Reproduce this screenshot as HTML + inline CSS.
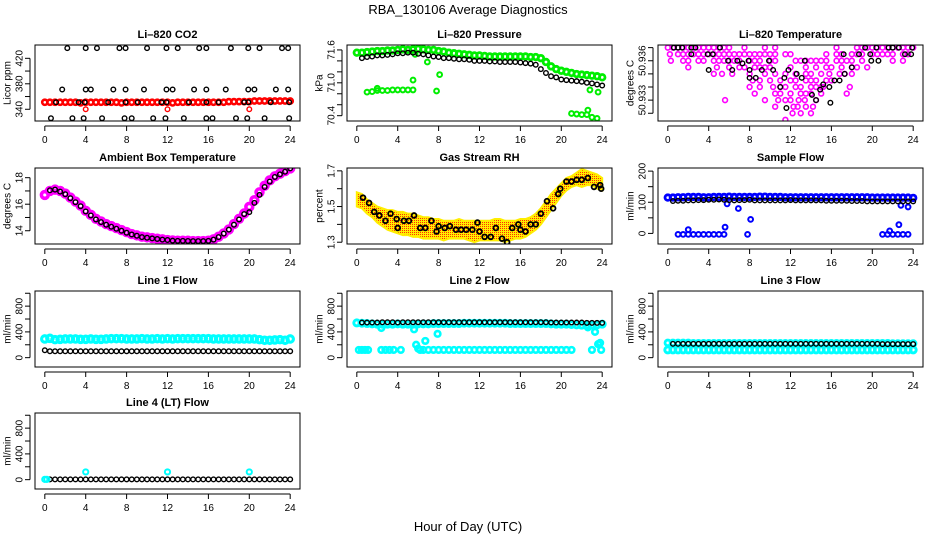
<!DOCTYPE html>
<html><head><meta charset="utf-8"><style>
html,body{margin:0;padding:0;background:#fff}
svg{display:block;font-family:"Liberation Sans",sans-serif}
</style></head><body>
<svg id="chart" width="936" height="540" viewBox="0 0 936 540" xmlns="http://www.w3.org/2000/svg">
<defs>
<pattern id="rhpat" width="2" height="2" patternUnits="userSpaceOnUse"><rect width="2" height="2" fill="#ffee00"/><rect width="1" height="1" fill="#ff3000"/></pattern>
</defs>
<text x="468" y="14" text-anchor="middle" font-size="13">RBA_130106  Average Diagnostics</text>
<text x="468" y="531" text-anchor="middle" font-size="13">Hour of Day (UTC)</text>
</svg>
<script>
const H=[0,0.5,1,1.5,2,2.5,3,3.5,4,4.5,5,5.5,6,6.5,7,7.5,8,8.5,9,9.5,10,10.5,11,11.5,12,12.5,13,13.5,14,14.5,15,15.5,16,16.5,17,17.5,18,18.5,19,19.5,20,20.5,21,21.5,22,22.5,23,23.5,24];
const xTicks=[0,4,8,12,16,20,24];
// CO2
const co2Red=[351,351,351,351,351,351,351,350,351,351,351,351,351,351,351,350,351,351,351,351,351,351,351,351,351,350,351,351,351,351,351,351,351,351,351,351,352,352,352,352,352,353,353,353,353,353,353,353,353];
const co2RedOutX=[4,12,20];
const co2RedOutY=[340,340,340];
const co2BlackX=[2.2,4,5.1,7.3,7.9,10,11.9,13,15.1,15.8,18.2,19.9,21,23.2,23.8,1.7,4,4.5,6.7,7.9,9.7,11.9,12.5,14.6,15.8,17.7,19.9,20.5,22.6,23.8,1.1,3.3,3.9,6.2,7.9,9.1,11.4,11.9,14.1,15.8,17,19.5,19.9,22.1,23.9,0.6,2.7,3.8,5.6,7.8,8.5,10.6,11.8,13.6,15.8,16.4,18.7,19.8,21.5,23.9];
const co2BlackY=[436,436,436,436,436,436,436,436,436,436,436,436,436,436,436,371,371,371,371,371,371,371,371,371,371,371,371,371,371,371,351,351,351,351,351,351,351,351,351,351,351,351,351,351,351,326,326,326,326,326,326,326,326,326,326,326,326,326,326,326];
// Pressure
const presGreen=[71.55,71.55,71.56,71.57,71.58,71.58,71.59,71.59,71.6,71.61,71.6,71.61,71.62,71.61,71.6,71.6,71.58,71.57,71.55,71.54,71.53,71.52,71.51,71.5,71.5,71.49,71.48,71.48,71.48,71.48,71.48,71.48,71.48,71.48,71.47,71.47,71.45,71.38,71.3,71.25,71.22,71.2,71.18,71.16,71.15,71.14,71.13,71.12,71.1];
const presGreenLowX=[1,1.5,2,2.5,3,3.5,4,4.5,5,5.5,2,5.5,5.7,6.9,7.8,8.1,21,21.5,22,22.5,23,23.5,22.6,22.8,23.6];
const presGreenLowY=[70.83,70.84,70.86,70.86,70.86,70.87,70.87,70.87,70.87,70.87,70.9,71.05,71.52,71.38,70.85,71.15,70.44,70.43,70.42,70.42,70.37,70.35,70.5,70.87,70.83];
const presBlack=[null,71.45,71.47,71.48,71.5,71.5,71.51,71.52,71.54,71.54,71.55,71.55,71.53,71.52,71.5,71.48,71.47,71.45,71.45,71.44,71.43,71.43,71.42,71.4,71.4,71.4,71.39,71.39,71.38,71.38,71.38,71.38,71.37,71.36,71.35,71.33,71.25,71.18,71.12,71.1,71.06,71.05,71.04,71.03,71.02,71.0,70.99,70.97,70.95];
// Li-820 temperature
const tempLevels=[50.937,50.9365,50.936,50.9355,50.935,50.9345,50.934,50.9335,50.933,50.9325,50.932,50.9315];
const tempMagHours=[
[0,0.5,1,1.5,2,2.5,3,3.5,4,4.5,5,5.5,6,7.5,9.5,10.5,16.5,18.5,19,19.5,20,20.5,21,21.5,22,22.5,23,23.5,24],
[0.2,1,1.5,2,2.5,3,3.5,4,4.5,5,5.5,6,6.5,7,7.5,8,8.5,9,9.5,10,10.5,11.5,12,15.5,16.5,17,18,18.5,19,20,20.5,21,21.5,22,23,23.5],
[0.3,1.5,2,3,3.5,4.5,5,5.5,6,6.5,7,8,8.5,9,10,10.5,12.5,13,13.5,14,14.5,15,15.5,16.5,17,17.5,18,19,22,23],
[2,4.8,6,7,7.5,8.5,9,9.5,10,12,13.5,14.5,15.5,16,17,18,18.5,19.5],
[4.5,5.3,6.3,8,9.5,10.5,11.5,12.5,13.5,14,15,15.8,16.8,17.3,18],
[8.3,9,10,11,12,12.5,13.5,14,14.5,15.5,16],
[8,9,10.3,11,11.5,12.5,13,14,14.5,15,15.2,17.8],
[8.5,10.5,11,12,13,13.5,14,15,17.5],
[5.6,9.5,10.8,11.5,12,12.8,13.4,14.5],
[10.5,12.3,12.7,13.5,14.2],
[12.2,13,14],
[11.5]];
const tempBlackX=[0.6,1.0,1.4,2.3,2.7,5.1,2.3,3.9,4.4,5.9,6.8,7.9,9.9,7.3,4.0,6.3,8.0,9.2,10.3,13.4,11.8,12.6,8.0,8.6,11.4,13.1,11.0,15.8,16.3,16.8,15.2,14.9,14.1,14.5,15.9,11.6,17.2,18.0,18.7,19.3,19.8,19.9,20.4,21.6,22.0,22.6,23.2,23.8,23.9,20.6,17.3];
const tempBlackY=[50.937,50.937,50.937,50.937,50.937,50.937,50.9365,50.9365,50.9365,50.936,50.936,50.936,50.936,50.9358,50.9353,50.9353,50.9353,50.9353,50.9353,50.936,50.9353,50.935,50.9347,50.9347,50.9347,50.9347,50.934,50.934,50.9345,50.9345,50.9342,50.9338,50.9334,50.933,50.9328,50.9324,50.9365,50.9355,50.9365,50.937,50.9365,50.936,50.937,50.937,50.937,50.937,50.9365,50.9365,50.937,50.936,50.935];
// Ambient box temperature
const ambMag=[16.7,17.0,17.1,17.0,16.8,16.5,16.2,15.9,15.5,15.2,14.9,14.7,14.5,14.35,14.2,14.05,13.9,13.75,13.65,13.55,13.5,13.45,13.4,13.35,13.3,13.27,13.25,13.25,13.25,13.22,13.22,13.22,13.25,13.35,13.55,13.8,14.1,14.5,14.9,15.3,15.8,16.3,16.9,17.4,17.8,18.1,18.3,18.5,18.7];
const ambBlack=[null,17.05,17.1,16.95,16.75,16.45,16.15,15.85,15.45,15.15,14.85,14.65,14.45,14.3,14.15,14.0,13.85,13.72,13.62,13.52,13.47,13.42,13.38,13.33,13.3,13.25,13.24,13.24,13.23,13.22,13.22,13.22,13.24,13.33,13.52,13.78,14.08,14.45,14.85,15.25,15.4,16.1,16.7,17.3,17.7,18.05,18.25,18.45,18.7];
// Gas stream RH
const rhLow=[1.5,1.49,1.46,1.44,1.41,1.39,1.37,1.36,1.35,1.34,1.34,1.33,1.33,1.32,1.32,1.32,1.32,1.31,1.32,1.32,1.32,1.32,1.31,1.3,1.31,1.31,1.31,1.31,1.31,1.3,1.31,1.32,1.32,1.33,1.35,1.37,1.4,1.44,1.48,1.52,1.56,1.59,1.61,1.62,1.61,1.62,1.62,1.6,1.59];
const rhHigh=[1.58,1.57,1.54,1.52,1.5,1.49,1.48,1.48,1.47,1.47,1.46,1.46,1.45,1.44,1.44,1.43,1.43,1.42,1.42,1.42,1.43,1.42,1.42,1.42,1.42,1.42,1.42,1.43,1.43,1.42,1.42,1.42,1.43,1.43,1.44,1.46,1.49,1.53,1.57,1.6,1.63,1.66,1.67,1.69,1.71,1.7,1.69,1.68,1.66];
const rhBlackX=[0.6,1.2,1.7,2.2,2.8,3.3,3.9,4,4.6,5.1,5.6,6.2,6.7,7.3,7.8,8,8.6,9.1,9.7,10.2,10.7,11.3,11.8,12,12.5,13.1,13.6,14.2,14.7,15.2,15.8,16,16.5,17,17.5,18,18.6,19.2,19.7,19.9,20.5,21,21.5,22,22.6,23.2,23.8,23.9];
const rhBlackY=[1.55,1.52,1.47,1.45,1.42,1.46,1.43,1.38,1.42,1.42,1.45,1.38,1.38,1.42,1.36,1.39,1.38,1.39,1.37,1.37,1.37,1.37,1.41,1.36,1.33,1.33,1.38,1.32,1.3,1.38,1.4,1.37,1.36,1.4,1.4,1.46,1.53,1.49,1.57,1.6,1.64,1.64,1.65,1.65,1.66,1.61,1.62,1.6];
// Sample flow
const sfBlue=[115,115,116,116,117,117,117,116,116,117,117,117,118,117,117,117,117,117,118,118,117,117,117,116,116,116,116,116,116,116,116,116,116,116,116,116,116,116,116,116,115,115,115,115,115,115,115,115,114];
const sfBlueLowX=[1,1.5,2,2.5,3,3.5,4,4.5,5,5.5,2,5.6,5.8,6.9,7.8,8.1,21,21.5,22,22.5,23,23.5,21.7,22.6,22.8,23.5];
const sfBlueLowY=[-3,-3,-3,-3,-3,-3,-3,-3,-3,-3,12,20,95,80,-3,45,-3,-3,-3,-3,-3,-3,8,28,90,85];
const sfBlack=[null,104,105,105,106,106,107,107,108,108,109,108,107,106,107,107,108,106,106,106,106,106,106,106,107,106,106,106,106,106,106,105,105,105,105,105,104,104,104,103,103,103,103,103,103,103,103,103,103];
// Line flows
const l1Cyan=[290,300,280,285,290,290,290,285,285,290,285,285,290,295,295,295,290,290,290,295,290,290,295,290,295,290,295,295,295,295,295,295,295,290,290,290,290,290,290,290,290,290,280,270,270,275,280,270,290];
const l1Black=[115,100,100,100,100,100,100,100,100,100,100,100,100,100,100,100,100,100,100,100,100,100,100,100,100,100,100,100,100,100,100,100,100,100,100,100,100,100,100,100,100,100,100,100,100,100,100,100,100];
const l2Cyan=[540,535,530,525,520,520,520,520,525,520,520,520,525,525,525,530,530,530,530,530,530,535,535,535,535,535,535,535,535,535,530,530,530,530,530,530,530,530,525,520,520,520,515,510,505,505,505,510,520];
const l2CyanLowX=[0.2,0.5,0.8,1.1,2.4,2.8,3.2,3.6,2.4,4.3,5.8,6.0,6.2,6.5,7,7.5,8,8.5,9,9.5,10,10.5,11,11.5,12,12.5,13,13.5,14,14.5,15,15.5,16,16.5,17,17.5,18,18.5,19,19.5,20,20.5,21,5.6,6.7,7.9,23,23.3,23.6,23.8,23.9,22.6];
const l2CyanLowY=[120,120,120,120,120,120,120,120,460,120,200,140,120,120,120,120,120,120,120,120,120,120,120,120,120,120,120,120,120,120,120,120,120,120,120,120,120,120,120,120,120,120,120,440,260,370,120,400,210,230,120,470];
const l2Black=[null,545,545,545,545,550,550,550,545,550,550,550,550,550,550,550,550,550,550,550,550,550,550,550,550,550,550,550,550,550,550,550,550,550,550,550,550,550,545,545,545,545,545,545,545,540,540,540,540];
const l3CyanA=[230,230,230,230,230,225,225,225,225,225,225,225,225,225,225,225,225,225,225,225,225,225,225,225,225,225,225,225,225,225,225,225,225,225,225,225,225,225,225,225,225,225,225,225,220,220,220,220,220];
const l3CyanB=[120,120,120,120,120,120,120,120,120,120,120,120,120,120,120,120,120,120,120,120,120,120,120,120,120,120,120,120,120,120,120,120,120,120,120,120,120,120,120,120,120,120,120,120,120,120,120,120,120];
const l3Black=[null,215,215,215,215,215,215,215,215,215,215,215,215,215,215,215,215,215,215,215,215,215,215,215,215,215,215,215,215,215,215,215,215,215,215,215,215,215,215,215,215,215,210,210,210,210,210,210,210];
const l4CyanX=[0,0.2,4,12,20];
const l4CyanY=[5,5,120,120,120];
const l4Black=[null,5,5,5,5,5,5,5,5,5,5,5,5,5,5,5,5,5,5,5,5,5,5,5,5,5,5,5,5,5,5,5,5,5,5,5,5,5,5,5,5,5,5,5,5,5,5,5,5];

const NS='http://www.w3.org/2000/svg';
const svg=document.getElementById('chart');
const COLS=[35,347,658], ROWS=[45,168,291,413], W=265, PH=76;
function mk(tag,attrs,parent){const e=document.createElementNS(NS,tag);for(const k in attrs)e.setAttribute(k,attrs[k]);(parent||svg).appendChild(e);return e;}

function panel(slug,col,row,title,ylab,ymin,ymax,yTicks,yLabVals,yLabTexts){
  const L=COLS[col],T=ROWS[row];
  const g=mk('g',{});
  
  
  const sx=h=>L+(h+0.96)/25.92*W;
  const sy=v=>T+PH*(ymax-v)/(ymax-ymin);
  const t=mk('text',{x:L+W/2,y:T-7,'text-anchor':'middle','font-size':11,'font-weight':'bold'},g);t.textContent=title;
  
  
  const ax=mk('g',{stroke:'#000','stroke-width':1},g);
  
  
  mk('line',{x1:sx(0),x2:sx(24),y1:T+PH+5,y2:T+PH+5},ax);
  xTicks.forEach(v=>{
    mk('line',{x1:sx(v),x2:sx(v),y1:T+PH+5,y2:T+PH+10},ax);
    const tx=mk('text',{x:sx(v),y:T+PH+22,'text-anchor':'middle','font-size':10,stroke:'none'},ax);tx.textContent=v;
    
    
  });
  const ay=mk('g',{stroke:'#000','stroke-width':1},g);
  
  
  mk('line',{x1:L-5,x2:L-5,y1:sy(yTicks[0]),y2:sy(yTicks[yTicks.length-1])},ay);
  yTicks.forEach(v=>mk('line',{x1:L-10,x2:L-5,y1:sy(v),y2:sy(v)},ay));
  yLabVals.forEach((v,i)=>{
    const y=sy(v);
    const tx=mk('text',{x:L-15,y:y,'text-anchor':'middle','font-size':10,stroke:'none','dominant-baseline':'central',transform:`rotate(-90 ${L-15} ${y})`},ay);
    tx.textContent=yLabTexts?yLabTexts[i]:v;
    
    
  });
  const yl=mk('text',{x:L-27,y:T+PH/2,'text-anchor':'middle','font-size':10,'dominant-baseline':'central',transform:`rotate(-90 ${L-27} ${T+PH/2})`},g);
  yl.textContent=ylab;
  
  
  const cp='clip-'+slug;
  const cpe=mk('clipPath',{id:cp},g);mk('rect',{x:L,y:T,width:W,height:PH},cpe);
  const plot=mk('g',{'clip-path':`url(#${cp})`},g);
  
  
  const box=mk('rect',{x:L,y:T,width:W,height:PH,fill:'none',stroke:'#000','stroke-width':1},g);
  
  
  return {sx,sy,plot};
}
function pts(p,xs,ys,color,name,r,sw){
  const g=mk('g',{fill:'none',stroke:color,'stroke-width':sw||1.4},p.plot);
  
  
  xs.forEach((x,i)=>{const v=ys[i];if(v==null)return;
    const c=mk('circle',{cx:p.sx(x),cy:p.sy(v),r:r||2.3},g);
    
    
  });
}

// CO2
let p=panel('co2',0,0,'Li\u2013820 CO2','Licor ppm',321.6,440.9,[340,360,380,400,420],[340,380,420]);
pts(p,H,co2Red,'#ff0000','co2-red-series',2.6,2.6);
pts(p,co2RedOutX,co2RedOutY,'#ff0000','co2-red-outliers');
pts(p,co2BlackX,co2BlackY,'#000','co2-black-series');
// Pressure
p=panel('pressure',1,0,'Li\u2013820 Pressure','kPa',70.303,71.69,[70.4,70.6,70.8,71.0,71.2,71.4,71.6],[70.4,71.0,71.6],['70.4','71.0','71.6']);
pts(p,H,presGreen,'#00ee00','pressure-green-series',2.8,2.8);
pts(p,presGreenLowX,presGreenLowY,'#00ee00','pressure-green-low',2.4,2);
pts(p,H,presBlack,'#000','pressure-black-series');
// Temperature
p=panel('li820-temp',2,0,'Li\u2013820 Temperature','degrees C',50.93141,50.9372,[50.932,50.933,50.934,50.935,50.936,50.937],[50.933,50.936],['50.933','50.936']);
tempMagHours.forEach((hs,li)=>pts(p,hs,hs.map(()=>tempLevels[li]),'#ff00ff','temp-magenta-series',2.4,1.6));
pts(p,tempBlackX,tempBlackY,'#000','temp-black-series');
// Ambient
p=panel('ambient-temp',0,1,'Ambient Box Temperature','degrees C',13.0,18.73,[14,15,16,17,18],[14,16,18]);
pts(p,H,ambMag,'#ff00ff','ambient-magenta-series',3.4,3.6);
pts(p,H,ambBlack,'#000','ambient-black-series');
// RH
p=panel('gas-rh',1,1,'Gas Stream RH','percent',1.29,1.716,[1.3,1.4,1.5,1.6,1.7],[1.3,1.5,1.7],['1.3','1.5','1.7']);
{let d='M'+H.map((h,i)=>p.sx(h)+','+p.sy(rhHigh[i])).join('L')+'L'+H.slice().reverse().map((h,j)=>p.sx(h)+','+p.sy(rhLow[H.length-1-j])).join('L')+'Z';
 const band=mk('path',{d:d,fill:'url(#rhpat)',stroke:'#ffee00','stroke-width':2},p.plot);
 
 }
pts(p,rhBlackX,rhBlackY,'#000','rh-black-series',2.4,1.8);
// Sample flow
p=panel('sample-flow',2,1,'Sample Flow','ml/min',-34,210,[0,50,100,150,200],[0,100,200]);
pts(p,H,sfBlue,'#0000ff','sample-blue-series',2.8,2.8);
pts(p,sfBlueLowX,sfBlueLowY,'#0000ff','sample-blue-low',2.4,2);
pts(p,H,sfBlack,'#000','sample-black-series');
// Line 1
const fT=[0,200,400,600,800,1000],fL=[0,400,800];
p=panel('line1-flow',0,2,'Line 1 Flow','ml/min',-145,1035,fT,fL);
pts(p,H,l1Cyan,'#00ffff','line1-cyan-series',3.2,3.2);
pts(p,H,l1Black,'#000','line1-black-series');
// Line 2
p=panel('line2-flow',1,2,'Line 2 Flow','ml/min',-145,1035,fT,fL);
pts(p,H,l2Cyan,'#00ffff','line2-cyan-series',3,3);
pts(p,l2CyanLowX,l2CyanLowY,'#00ffff','line2-cyan-low',2.8,2.6);
pts(p,H,l2Black,'#000','line2-black-series');
// Line 3
p=panel('line3-flow',2,2,'Line 3 Flow','ml/min',-145,1035,fT,fL);
pts(p,H,l3CyanA,'#00ffff','line3-cyan-upper',2.8,2.8);
pts(p,H,l3CyanB,'#00ffff','line3-cyan-lower',3,3);
pts(p,H,l3Black,'#000','line3-black-series');
// Line 4
p=panel('line4-flow',0,3,'Line 4 (LT) Flow','ml/min',-145,1035,fT,fL);
pts(p,H,l4Black,'#000','line4-black-series');
pts(p,l4CyanX,l4CyanY,'#00ffff','line4-cyan-series',2.6,2);
</script>
</body></html>
